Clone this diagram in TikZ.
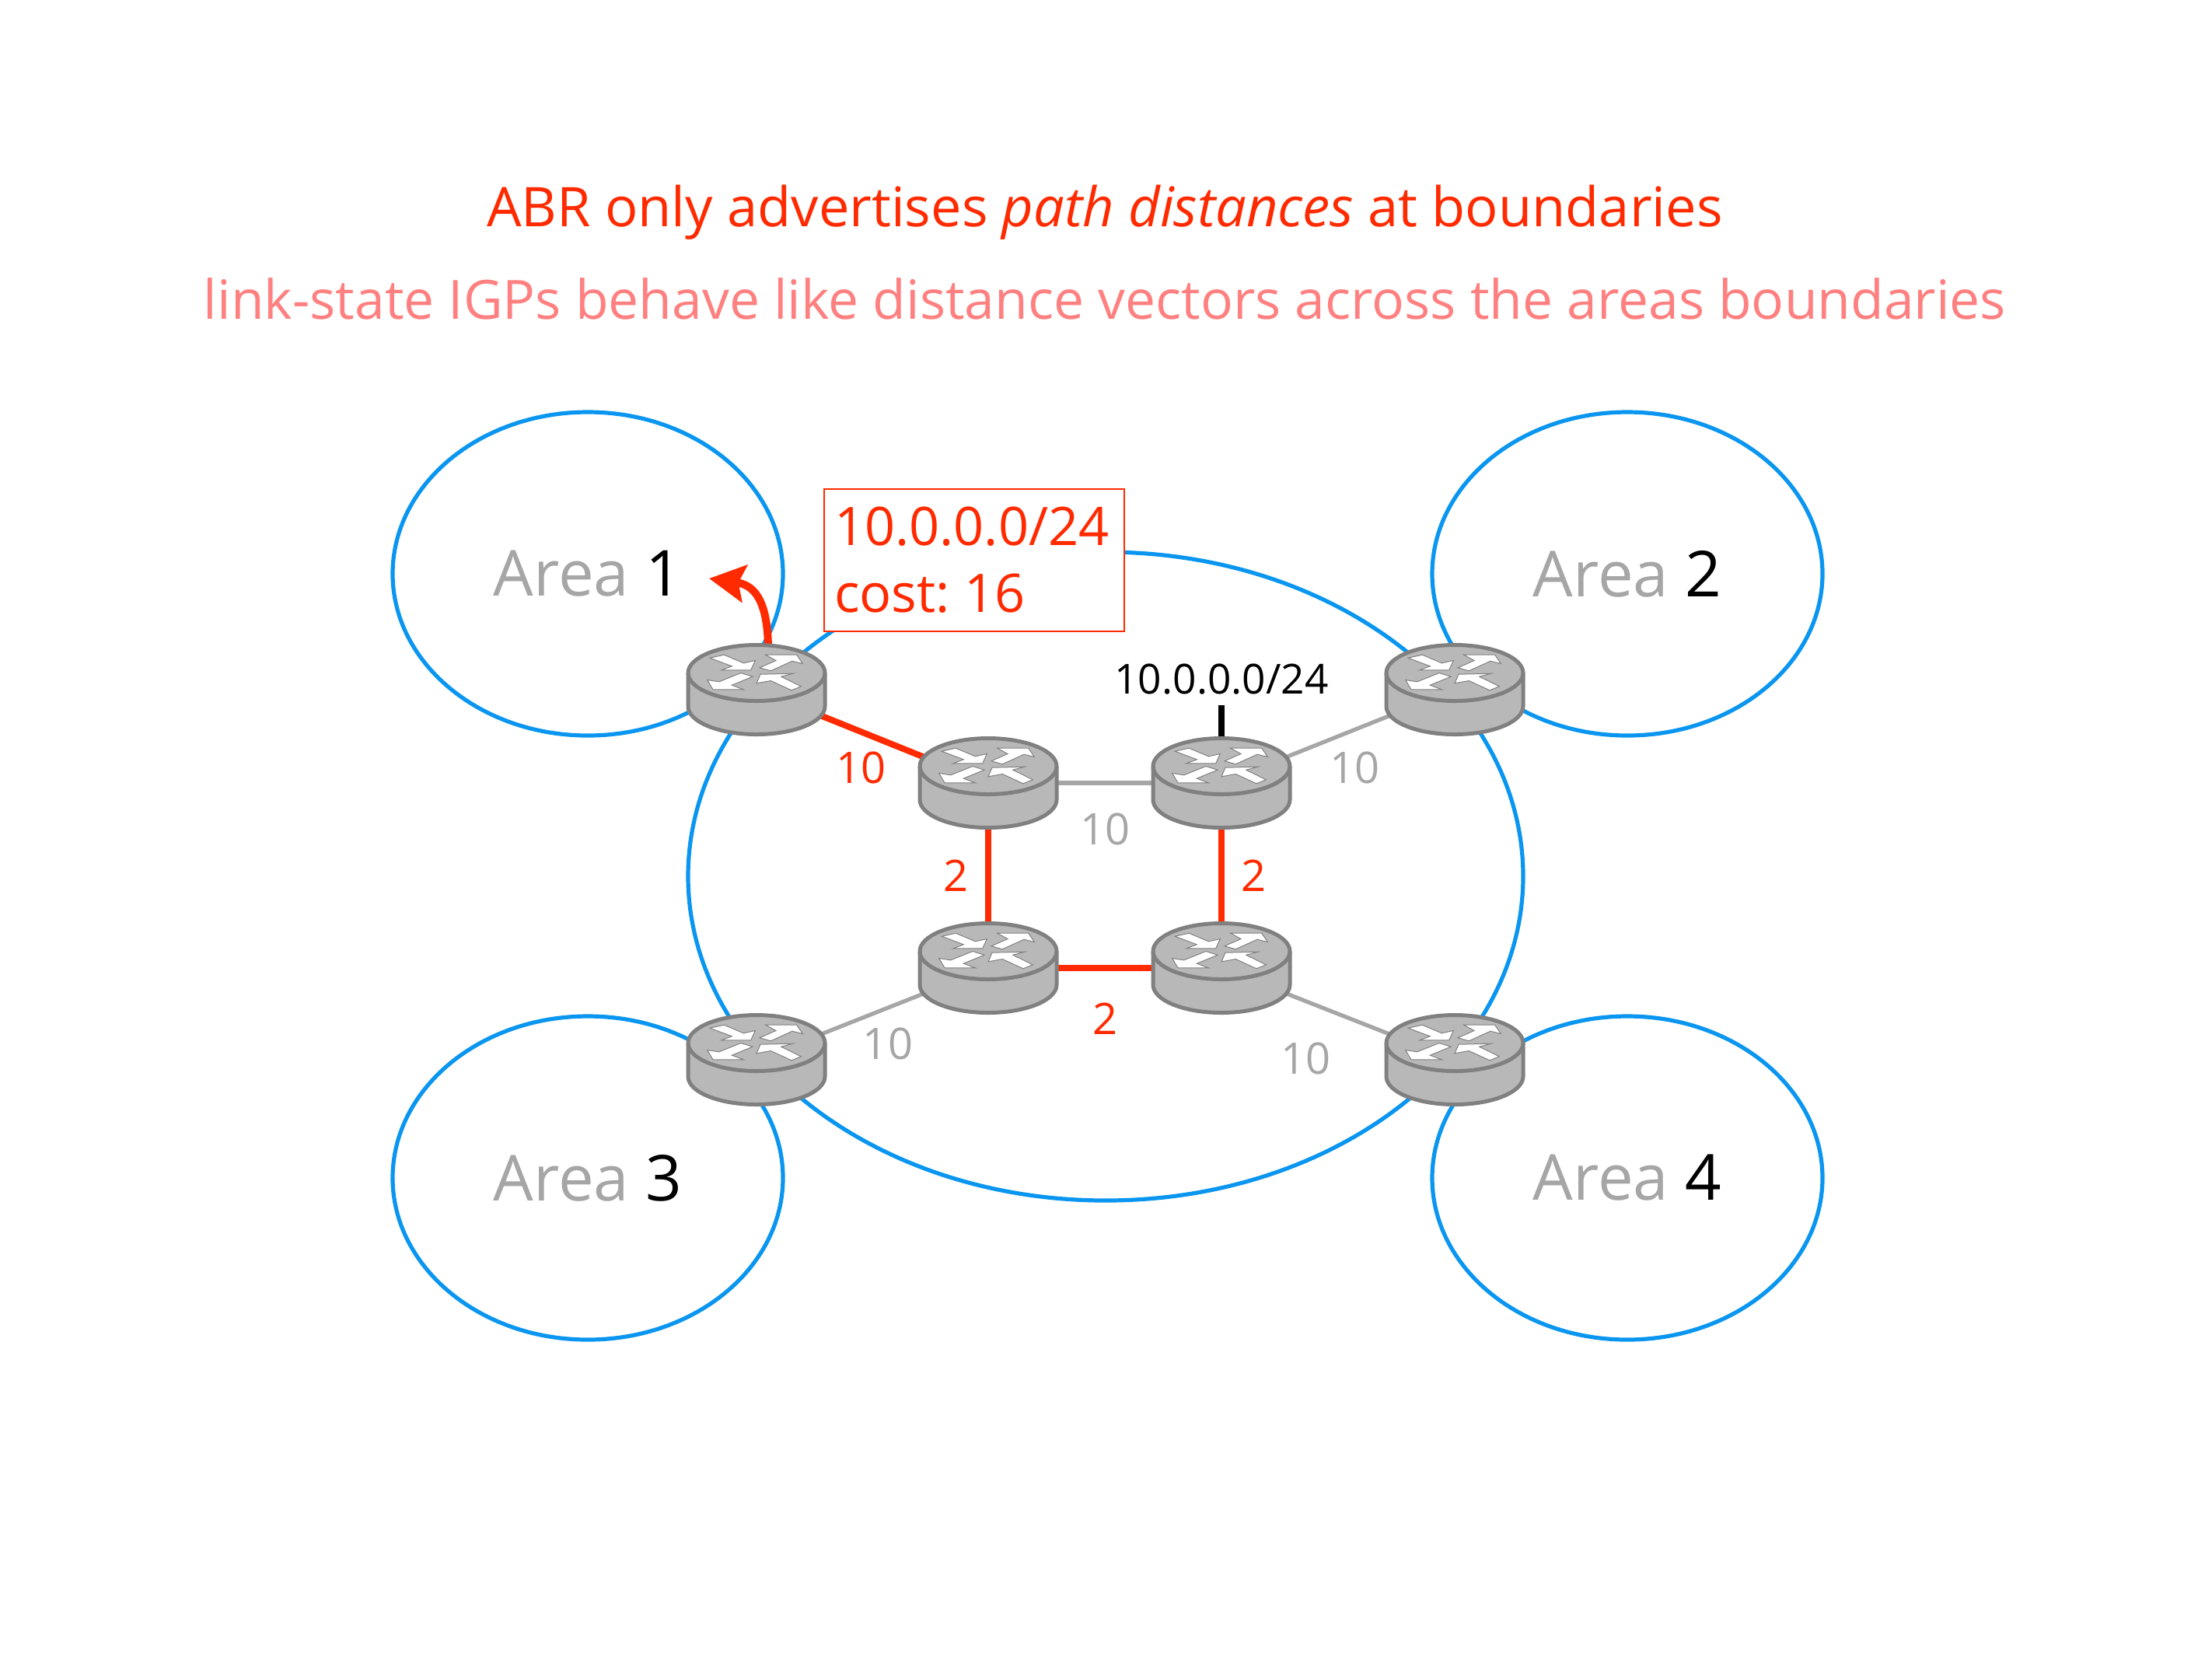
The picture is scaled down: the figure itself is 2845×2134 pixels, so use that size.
\documentclass[tikz,border=0pt]{standalone}
\usepackage{fontspec}
\setmainfont{Open Sans}
\usetikzlibrary{shapes.geometric,backgrounds,arrows.meta}
\definecolor{abrred}{HTML}{FF2A00}
\definecolor{abrpink}{HTML}{FF8080}
\definecolor{areablue}{HTML}{0A96F0}
\definecolor{linkgray}{HTML}{A6A6A6}
\definecolor{routerfill}{HTML}{B8B8B8}
\definecolor{routerline}{HTML}{808080}
\tikzset{
    area/.style={ellipse,draw=areablue,line width=1.3pt,inner sep=0pt,minimum width=125.5pt,minimum height=104pt,font=\fontsize{20.4}{24}\selectfont,text=linkgray},
    router/.style={rectangle,inner sep=0pt,minimum width=48pt,minimum height=32pt,path picture={
        \begin{scope}[shift={(path picture bounding box.center)},line width=1.25pt,draw=routerline]
            \filldraw[fill=routerfill] (-88,-21.5) -- (-88,21.5) arc[x radius=88,y radius=36,start angle=180,end angle=0] -- (88,-21.5) arc[x radius=88,y radius=36,start angle=0,end angle=-180] -- cycle;
            \draw (-88,-21.5) arc[x radius=88,y radius=36,start angle=180,end angle=0];
            \filldraw[fill=white,line width=.25pt] (-60,-40.8) -- (-41.7,-44.8) -- (-16.7,-34.2) -- (-1.7,-37.5) -- (-7.3,-25.2) -- (-45,-25.2) -- (-31.7,-30.2) -- cycle;
            \filldraw[fill=white,line width=.25pt] (4,-28.2) -- (25,-37.5) -- (11.7,-44.8) -- (51.7,-44.8) -- (59.3,-33.5) -- (46,-36.8) -- (18.3,-24.2) -- cycle;
            \filldraw[fill=white,line width=.25pt] (-63.3,-12.5) -- (-48.3,-10.2) -- (-20,-21.5) -- (-5,-16.8) -- (-31.7,-5.8) -- (-16.7,-.2) -- (-56,-.2) -- cycle;
            \filldraw[fill=white,line width=.25pt] (0,-8.2) -- (5,-19.8) -- (46.7,-20.8) -- (31.7,-16.8) -- (57.3,-4.2) -- (45,.8) -- (18.3,-11.5) -- cycle;
        \end{scope}}},
    redlink/.style={draw=abrred,line width=2pt},
    graylink/.style={draw=linkgray,line width=1.3pt},
    cost/.style={font=\fontsize{14}{17}\selectfont},
}
\begin{document}
\begin{tikzpicture}[x=.25pt,y=-.25pt,node distance=75pt]
    \useasboundingbox (0,0) rectangle (2845,2134);

    % Titles
    \node [anchor=base,text=abrred,font=\fontsize{17.6}{21}\selectfont] (title) at (1421,291) {ABR only advertises \textit{path distances} at boundaries};
    \node [anchor=base,text=abrpink,font=\fontsize{17.4}{21}\selectfont] (subtitle) at (1421,410) {link-state IGPs behave like distance vectors across the areas boundaries};

    % Routers
    \node [router] (abrone) at (973,887) {};
    \node [router] (abrtwo) at (1871,887) {};
    \node [router] (abrthree) at (973,1363) {};
    \node [router] (abrfour) at (1871,1363) {};
    \node [router] (coreNW) at (1271,1007) {};
    \node [router,right of=coreNW] (coreNE) {};
    \node [router,below of=coreNW,node distance=59.5pt] (coreSW) {};
    \node [router,right of=coreSW] (coreSE) {};

    % Areas and connections
    \begin{scope}[on background layer]
        \node [area] (areaone) at (756,738) {Area \textcolor{black}{1}};
        \node [area] (areatwo) at (2093,738) {Area \textcolor{black}{2}};
        \node [area] (areathree) at (756,1515) {Area \textcolor{black}{3}};
        \node [area] (areafour) at (2093,1515) {Area \textcolor{black}{4}};
        \node [ellipse,draw=areablue,line width=1.3pt,inner sep=0pt,minimum width=268.5pt,minimum height=208.5pt] (backbone) at (1422,1127) {};

        \draw [redlink] (abrone.center) --node[cost,text=abrred,below,xshift=-3.6pt,yshift=-.6pt]{10} (coreNW.center);
        \draw [graylink] (coreNW.center) --node[cost,text=linkgray,below,yshift=-5.7pt]{10} (coreNE.center);
        \draw [graylink] (coreNE.center) --node[cost,text=linkgray,below,xshift=5.4pt,yshift=-1.1pt]{10} (abrtwo.center);
        \draw [redlink] (coreNW.center) --node[cost,text=abrred,left,xshift=-2pt]{2} (coreSW.center);
        \draw [redlink] (coreNE.center) --node[cost,text=abrred,right,xshift=2pt]{2} (coreSE.center);
        \draw [redlink] (coreSW.center) --node[cost,text=abrred,below,yshift=-6.8pt]{2} (coreSE.center);
        \draw [graylink] (abrthree.center) --node[cost,text=linkgray,below,xshift=5pt,yshift=-.6pt]{10} (coreSW.center);
        \draw [graylink] (coreSE.center) --node[cost,text=linkgray,below,xshift=-10.4pt,yshift=-5.3pt]{10} (abrfour.center);

        \coordinate (stubtop) at (1571,907);
        \draw [line width=2pt] (coreNE.center) -- (stubtop);
        \coordinate (arrowtip) at (912,744);
        \draw [-{Stealth[length=11.5pt,width=12pt,inset=2pt]},abrred,line width=2.5pt] (abrone.center) ++(15,-50) coordinate (arrowstart) .. controls +(0,-70) and +(55,8) .. (arrowtip);
    \end{scope}

    % Labels
    \node [cost,font=\fontsize{13.3}{16}\selectfont,anchor=south] (prefix) at (stubtop) {10.0.0.0/24};
    \node [draw=abrred,line width=.5pt,fill=white,text=abrred,anchor=north west,minimum width=96.5pt,minimum height=45.75pt,inner sep=0pt,align=left,text width=90pt,font=\fontsize{17.1}{21.5}\selectfont] (callout) at (1059,628) {10.0.0.0/24\\cost:\hspace{-4pt} 16};
\end{tikzpicture}
\end{document}
